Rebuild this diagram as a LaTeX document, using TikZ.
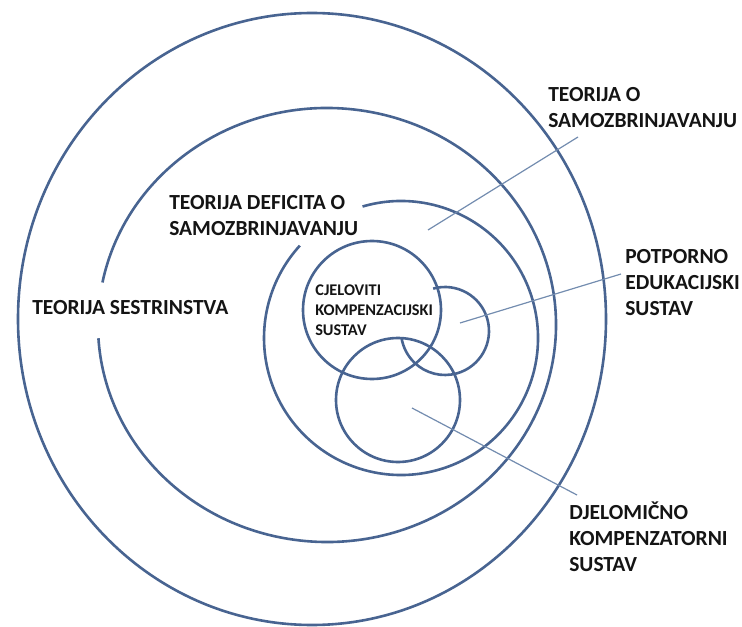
\documentclass[tikz,border=0pt]{standalone}
\usepackage{fontspec}
\setmainfont{Carlito}
\usepackage{xcolor}
\usepackage{tikz}

\definecolor{ringblue}{RGB}{72,100,145}
\definecolor{leadblue}{RGB}{115,140,175}
\definecolor{labelink}{RGB}{20,20,20}

\begin{document}
\begin{tikzpicture}[x=0.25mm, y=-0.25mm,
  ring/.style={draw=ringblue, line width=0.65mm},
  lead/.style={draw=leadblue, line width=0.3mm},
  lbl/.style={anchor=west, inner sep=0pt, align=left, text=labelink,
    font=\fontsize{15.3}{18.5}\selectfont\bfseries},
  lblsmall/.style={lbl, font=\fontsize{11.6}{14.2}\selectfont\bfseries}]
  \useasboundingbox (0,0) rectangle (742,627);

  % rings
  \draw[ring] (312,319) ellipse [x radius=294, y radius=306];
  \draw[ring] ([shift={(-168.7:229 and 217)}]327,325)
    arc[start angle=-168.7, end angle=176.5, x radius=229, y radius=217];
  \draw[ring] ([shift={(-106.3:137)}]401,338)
    arc[start angle=-106.3, end angle=222.4, radius=137];
  \draw[ring] (372,310) circle [radius=69];
  \draw[ring] ([shift={(-105.6:44)}]445,331)
    arc[start angle=-105.6, end angle=170.8, radius=44];
  \draw[ring] (398,400) circle [radius=62];

  % labels
  \node (samo) at (548,108) [lbl] {TEORIJA O\\SAMOZBRINJAVANJU};
  \node (deficit) at (169,216) [lbl] {TEORIJA DEFICITA O\\SAMOZBRINJAVANJU};
  \node (sestr) at (32,308) [lbl] {TEORIJA SESTRINSTVA};
  \node (potp) at (625,283) [lbl] {POTPORNO\\EDUKACIJSKI\\SUSTAV};
  \node (djelo) at (569,537) [lbl] {DJELOMIČNO\\KOMPENZATORNI\\SUSTAV};
  \node (cjel) at (315,310) [lblsmall] {CJELOVITI\\KOMPENZACIJSKI\\SUSTAV};

  % leader lines
  \coordinate (samoIn) at (428,230);
  \coordinate (samoEnd) at (578,137);
  \coordinate (potpIn) at (460,323);
  \coordinate (potpEnd) at (621,274);
  \coordinate (djeloIn) at (412,408);
  \coordinate (djeloEnd) at (577,495);
  \draw[lead] (samoIn) -- (samoEnd);
  \draw[lead] (potpIn) -- (potpEnd);
  \draw[lead] (djeloIn) -- (djeloEnd);
\end{tikzpicture}
\end{document}
